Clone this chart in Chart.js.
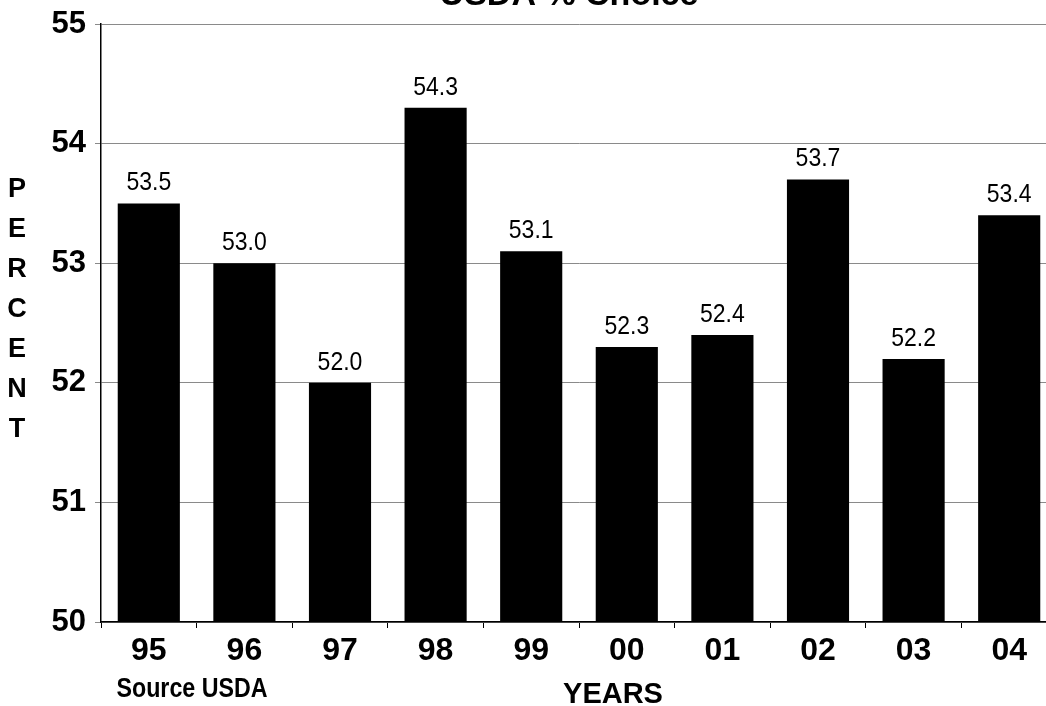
<!DOCTYPE html>
<html>
<head>
<meta charset="utf-8">
<script src="https://cdn.jsdelivr.net/npm/chart.js@4"></script>
<style>
  html, body { margin: 0; padding: 0; background: #fff; overflow: hidden; }
  #wrap { position: absolute; left: 0; top: 0; width: 1060px; height: 706px; }
</style>
</head>
<body>
<div id="wrap"><canvas id="choiceChart" width="1060" height="706"></canvas></div>
<script>
const years = ['95', '96', '97', '98', '99', '00', '01', '02', '03', '04'];
const choicePct = [53.5, 53.0, 52.0, 54.3, 53.1, 52.3, 52.4, 53.7, 52.2, 53.4];
const yMin = 50;
const yMax = 55;
const yStep = 1;

const FONT = "'Liberation Sans', Arial, sans-serif";

// squeezed text, close to a narrow face
function narrowText(ctx, text, x, y, sx) {
  ctx.save();
  ctx.translate(x, y);
  ctx.scale(sx, 1);
  ctx.fillText(text, 0, 0);
  ctx.restore();
}

// value labels over each bar + the loose text around the plot
const annotations = {
  id: 'annotations',
  afterDatasetsDraw(chart) {
    const ctx = chart.ctx;
    const meta = chart.getDatasetMeta(0);
    ctx.save();
    ctx.fillStyle = '#000';
    ctx.textAlign = 'center';
    ctx.textBaseline = 'alphabetic';
    ctx.font = '25px ' + FONT;
    meta.data.forEach((bar, i) => {
      narrowText(ctx, choicePct[i].toFixed(1), bar.x, bar.y - 13, 0.92);
    });
    ctx.restore();
  },
  afterDraw(chart) {
    const ctx = chart.ctx;
    ctx.save();
    ctx.fillStyle = '#000';
    ctx.textAlign = 'center';
    ctx.textBaseline = 'alphabetic';

    ctx.font = 'bold 34px ' + FONT;
    ctx.fillText('USDA % Choice', 569, 5);

    ctx.font = 'bold 27px ' + FONT;
    'PERCENT'.split('').forEach((ch, i) => {
      ctx.fillText(ch, 17, 197 + i * 40);
    });

    ctx.font = 'bold 28px ' + FONT;
    narrowText(ctx, 'Source USDA', 192, 697, 0.83);

    ctx.font = 'bold 29px ' + FONT;
    ctx.fillText('YEARS', 613, 703);
    ctx.restore();
  }
};

const data = {
  labels: years,
  datasets: [{
    label: 'USDA % Choice',
    data: choicePct,
    backgroundColor: '#000',
    borderWidth: 0,
    barPercentage: 0.65,
    categoryPercentage: 1.0
  }]
};

const config = {
  type: 'bar',
  data: data,
  options: {
    responsive: false,
    animation: false,
    layout: { padding: { top: 24, right: 3, bottom: 0, left: 0 } },
    plugins: {
      legend: { display: false },
      title: { display: false },
      tooltip: { enabled: false }
    },
    scales: {
      x: {
        offset: true,
        grid: {
          offset: true,
          drawOnChartArea: false,
          tickLength: 6,
          color: '#000'
        },
        border: { color: '#000', width: 1.5 },
        ticks: {
          color: '#000',
          padding: 4,
          font: { family: FONT, size: 32, weight: 'bold' }
        },
        afterFit(scale) {
          scale.height = 84;
          scale.paddingLeft = 0;
          scale.paddingRight = 0;
        }
      },
      y: {
        min: yMin,
        max: yMax,
        grid: {
          color: '#8a8a8a',
          lineWidth: 1,
          tickLength: 6
        },
        border: { color: '#000', width: 1.5 },
        ticks: {
          stepSize: yStep,
          color: '#000',
          padding: 9,
          font: { family: FONT, size: 31, weight: 'bold' }
        },
        afterFit(scale) {
          scale.width = 101;
          scale.paddingTop = 0;
          scale.paddingBottom = 0;
        }
      }
    }
  },
  plugins: [annotations]
};

new Chart(document.getElementById('choiceChart'), config);
</script>
</body>
</html>
